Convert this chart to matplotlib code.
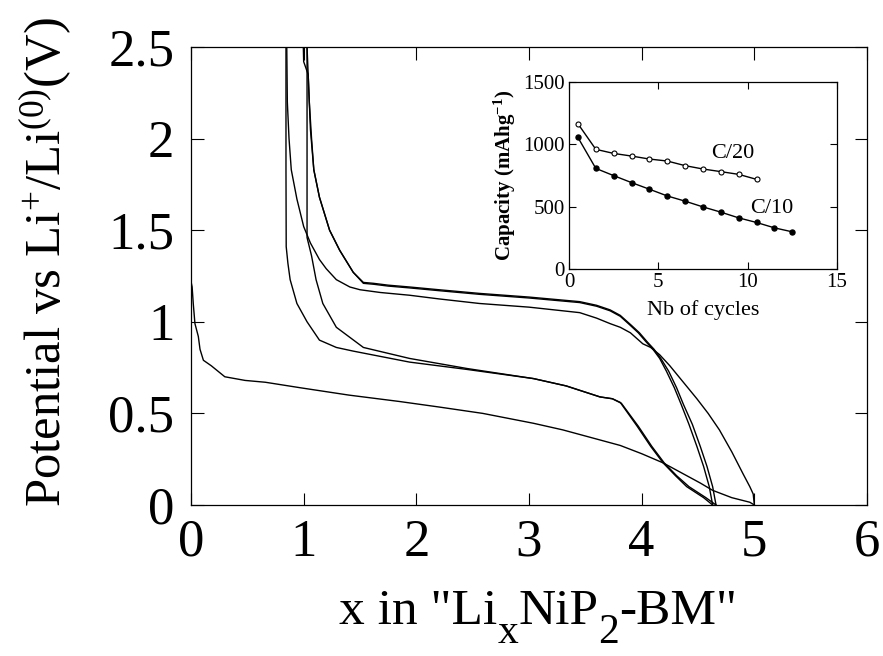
import matplotlib
matplotlib.use("Agg")
import matplotlib.pyplot as plt

plt.rcParams['font.family'] = ['Liberation Serif', 'DejaVu Serif']
plt.rcParams['mathtext.fontset'] = 'custom'
plt.rcParams['mathtext.rm'] = 'Liberation Serif'
plt.rcParams['mathtext.it'] = 'Liberation Serif:italic'
plt.rcParams['mathtext.bf'] = 'Liberation Serif:bold'

# ---------------- main galvanostatic curves (x in LixNiP2, V) ----------------
d1_x = [0.0, 0.01, 0.02, 0.035, 0.065, 0.08, 0.11, 0.18, 0.30, 0.48, 0.66, 0.97, 1.40, 1.85,
        2.20, 2.59, 3.04, 3.30, 3.63, 3.81, 4.00, 4.19, 4.40, 4.52, 4.63, 4.80, 4.96, 5.0]
d1_v = [1.22, 1.19, 1.10, 0.99, 0.92, 0.85, 0.79, 0.76, 0.70, 0.68, 0.67, 0.64, 0.60, 0.565,
        0.535, 0.50, 0.446, 0.41, 0.355, 0.325, 0.28, 0.23, 0.16, 0.12, 0.08, 0.04, 0.015, 0.0]

c1_x = [5.0, 4.99, 4.96, 4.90, 4.80, 4.69, 4.59, 4.49, 4.37, 4.25, 4.16, 4.08, 4.01, 3.90,
        3.81, 3.72, 3.60, 3.45, 3.00, 2.56, 2.20, 1.94, 1.68, 1.50, 1.41, 1.29, 1.20, 1.14,
        1.06, 1.00, 0.94, 0.89, 0.87, 0.855, 0.85]
c1_v = [0.0, 0.06, 0.10, 0.17, 0.29, 0.41, 0.50, 0.58, 0.67, 0.76, 0.82, 0.86, 0.88, 0.94,
        0.97, 0.99, 1.02, 1.05, 1.08, 1.10, 1.125, 1.145, 1.16, 1.175, 1.19, 1.23, 1.29, 1.34,
        1.43, 1.52, 1.67, 1.83, 2.00, 2.20, 2.50]

d2_x = [0.843, 0.843, 0.845, 0.86, 0.88, 0.94, 1.03, 1.14, 1.29, 1.44, 1.94, 2.45, 3.04,
        3.33, 3.63, 3.74, 3.81, 3.96, 4.08, 4.19, 4.30, 4.40, 4.55, 4.63]
d2_v = [2.50, 1.83, 1.41, 1.32, 1.23, 1.10, 1.00, 0.90, 0.86, 0.84, 0.78, 0.74, 0.69,
        0.65, 0.59, 0.58, 0.56, 0.43, 0.32, 0.23, 0.16, 0.10, 0.04, 0.0]

c2_x = [4.63, 4.60, 4.55, 4.49, 4.42, 4.35, 4.29, 4.22, 4.16, 4.10, 4.04, 3.97, 3.90, 3.81,
        3.72, 3.60, 3.45, 3.00, 2.56, 2.20, 1.94, 1.75, 1.62, 1.53, 1.44, 1.32, 1.23, 1.14,
        1.09, 1.07, 1.05, 1.03]
c2_v = [0.0, 0.10, 0.21, 0.32, 0.44, 0.55, 0.64, 0.73, 0.80, 0.85, 0.89, 0.94, 0.98, 1.03,
        1.06, 1.085, 1.105, 1.13, 1.15, 1.17, 1.185, 1.195, 1.205, 1.21, 1.27, 1.39, 1.50, 1.68,
        1.83, 2.00, 2.20, 2.50]

d3_x = [1.03, 1.03, 1.03, 1.07, 1.11, 1.17, 1.29, 1.53, 1.94, 2.45, 3.04, 3.33, 3.63, 3.74,
        3.82, 3.97, 4.09, 4.20, 4.31, 4.42, 4.57, 4.66]
d3_v = [2.50, 1.83, 1.46, 1.36, 1.23, 1.10, 0.97, 0.86, 0.80, 0.745, 0.69, 0.65, 0.59, 0.58,
        0.555, 0.43, 0.32, 0.23, 0.16, 0.10, 0.04, 0.0]

c3_x = [4.66, 4.63, 4.58, 4.52, 4.45, 4.37, 4.31, 4.24, 4.17, 4.11, 4.05, 3.98, 3.91, 3.81,
        3.72, 3.60, 3.45, 3.00, 2.56, 2.20, 1.94, 1.75, 1.62, 1.53, 1.44, 1.32, 1.23, 1.14,
        1.09, 1.06, 1.04, 1.00, 0.997]
c3_v = [0.0, 0.10, 0.21, 0.32, 0.44, 0.55, 0.64, 0.73, 0.80, 0.85, 0.89, 0.94, 0.98, 1.035,
        1.065, 1.09, 1.11, 1.135, 1.155, 1.175, 1.19, 1.20, 1.21, 1.215, 1.27, 1.39, 1.50, 1.68,
        1.83, 2.05, 2.35, 2.42, 2.50]

main_xticks = [0, 1, 2, 3, 4, 5, 6]
main_yticks = [0, 0.5, 1, 1.5, 2, 2.5]
main_yticklabels = ['0', '0.5', '1', '1.5', '2', '2.5']
xlabel_parts = ['x in "Li', 'x', 'NiP', '2', '-BM"']
xlabel_is_sub = [False, True, False, True, False]

# ---------------- inset: capacity vs cycle number ----------------
c20_cycles = [0.5, 1.5, 2.5, 3.5, 4.5, 5.5, 6.5, 7.5, 8.5, 9.5, 10.5]
c20_capacity = [1165, 960, 927, 906, 882, 866, 829, 802, 781, 759, 719]
c10_cycles = [0.5, 1.5, 2.5, 3.5, 4.5, 5.5, 6.5, 7.5, 8.5, 9.5, 10.5, 11.5, 12.5]
c10_capacity = [1055, 807, 749, 693, 640, 586, 544, 498, 456, 410, 373, 330, 298]
inset_xticks = [0, 5, 10, 15]
inset_yticks = [0, 500, 1000, 1500]

W, H = 883, 656
fig = plt.figure(figsize=(W / 100, H / 100), dpi=100)
ax = fig.add_axes([191/W, 1-505/H, (867-191)/W, (505-47)/H])

for xs, vs in [(d1_x, d1_v), (c1_x, c1_v), (d2_x, d2_v), (c2_x, c2_v), (d3_x, d3_v), (c3_x, c3_v)]:
    ax.plot(xs, vs, color='black', lw=1.0, solid_joinstyle='round')

ax.set_xlim(0, 6)
ax.set_ylim(0, 2.5)
ax.set_xticks(main_xticks)
ax.set_yticks(main_yticks)
ax.set_yticklabels(main_yticklabels)
ax.tick_params(direction='in', length=9, width=0.8, top=True, right=True, labelsize=38)
ax.tick_params(axis='x', pad=10)
ax.tick_params(axis='y', pad=12)
for s in ax.spines.values():
    s.set_linewidth(0.9)
ax.set_ylabel(r'Potential vs Li$^\mathrm{+}$/Li$^\mathrm{(0)}$(V)', fontsize=36.5)
ax.yaxis.set_label_coords(-0.175, 0.53)

# x label built from pieces so the subscripts are large and low, as in the original
fs_main = 37
fs_sub = 30
base_main = H - 624
base_sub = H - 643
renderer = fig.canvas.get_renderer()
texts = []
widths = []
for part, sub in zip(xlabel_parts, xlabel_is_sub):
    t = fig.text(0, 0, part, fontsize=fs_sub if sub else fs_main, va='baseline', ha='left')
    texts.append(t)
    widths.append(t.get_window_extent(renderer=renderer).width)
total = sum(widths)
x0 = 538 - total / 2
for t, w, sub in zip(texts, widths, xlabel_is_sub):
    t.set_position((x0 / W, (base_sub if sub else base_main) / H))
    x0 += w

# inset
ins = fig.add_axes([569/W, 1-269/H, (837-569)/W, (269-82)/H])
ins.plot(c20_cycles, c20_capacity, color='black', lw=1.0, marker='o', ms=3.6,
         mfc='white', mec='black', mew=0.8)
ins.plot(c10_cycles, c10_capacity, color='black', lw=1.0, marker='o', ms=3.6,
         mfc='black', mec='black')
ins.set_xlim(0, 15)
ins.set_ylim(0, 1500)
ins.set_xticks(inset_xticks)
ins.set_yticks(inset_yticks)
ins.tick_params(direction='in', length=5, width=0.8, top=True, right=True, labelsize=15, pad=3)
for s in ins.spines.values():
    s.set_linewidth(0.9)
ins.set_xlabel('Nb of cycles', fontsize=16, labelpad=6)
ins.set_ylabel(r'Capacity (mAhg$^\mathbf{-1}$)', fontsize=15, fontweight='bold', labelpad=4)
ins.text(9.18, 930, 'C/20', fontsize=16, ha='center', va='center')
ins.text(11.34, 487, 'C/10', fontsize=16, ha='center', va='center')

fig.savefig('out.png', dpi=100)
